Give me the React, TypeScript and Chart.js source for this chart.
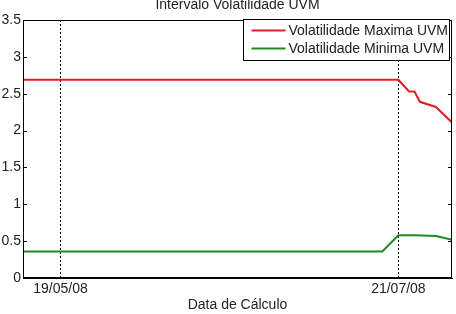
import React, { useEffect, useRef } from "react";
import { Chart, registerables } from "chart.js";

Chart.register(...registerables);

const chartTitle = "Intervalo Volatilidade UVM";
const xAxisTitle = "Data de Cálculo";

// x values are days relative to 19/05/08
const xMin = -7;
const xMax = 73;
const tickDays = [0, 63];
const tickLabels = ["19/05/08", "21/07/08"];

const yMin = 0;
const yMax = 3.5;
const yStep = 0.5;

const maxLabel = "Volatilidade Maxima UVM";
const maxDays = [-7, 63, 65, 66, 67, 70, 73];
const maxValues = [2.69, 2.69, 2.53, 2.53, 2.39, 2.32, 2.11];

const minLabel = "Volatilidade Minima UVM";
const minDays = [-7, 60, 63, 66, 70, 73];
const minValues = [0.36, 0.36, 0.58, 0.58, 0.57, 0.52];

const FONT = "'Liberation Sans', Arial, sans-serif";
const TEXT = "#222";

const framePlugin = {
  id: "matlabFrame",
  afterDraw(chart: any) {
    const { ctx, chartArea } = chart;
    const { left, right, top, bottom } = chartArea;
    ctx.save();
    ctx.strokeStyle = "#000";
    ctx.lineWidth = 1;
    ctx.setLineDash([]);
    ctx.strokeRect(left + 0.5, top + 0.5, right - left - 1, bottom - top - 1);
    // inward y ticks
    const ys = chart.scales.y;
    ys.ticks.forEach((t: any) => {
      const py = Math.round(ys.getPixelForValue(t.value)) + 0.5;
      ctx.beginPath();
      ctx.moveTo(left, py);
      ctx.lineTo(left + 4, py);
      ctx.moveTo(right - 4, py);
      ctx.lineTo(right, py);
      ctx.stroke();
    });
    // legend
    const boxW = 206;
    const boxH = 41;
    const bx = Math.round(right - boxW - 3) + 0.5;
    const by = Math.round(top - 1) + 0.5;
    ctx.fillStyle = "#fff";
    ctx.fillRect(bx, by, boxW, boxH);
    ctx.strokeRect(bx, by, boxW, boxH);
    ctx.font = `14px ${FONT}`;
    ctx.textBaseline = "middle";
    ctx.textAlign = "left";
    chart.data.datasets.forEach((ds: any, i: number) => {
      const ly = by + 11 + i * 18;
      ctx.strokeStyle = ds.borderColor;
      ctx.lineWidth = 2;
      ctx.beginPath();
      ctx.moveTo(bx + 8, ly);
      ctx.lineTo(bx + 42, ly);
      ctx.stroke();
      ctx.fillStyle = TEXT;
      ctx.fillText(ds.label, bx + 45, ly + 1);
    });
    ctx.restore();
  },
};

export default function App() {
  const ref = useRef<HTMLCanvasElement | null>(null);

  useEffect(() => {
    if (!ref.current) return;
    const chart = new Chart(ref.current, {
      type: "line",
      data: {
        datasets: [
          {
            label: maxLabel,
            data: maxDays.map((d, i) => ({ x: d, y: maxValues[i] })),
            borderColor: "#e41e1e",
            borderWidth: 2,
            pointRadius: 0,
            tension: 0,
          },
          {
            label: minLabel,
            data: minDays.map((d, i) => ({ x: d, y: minValues[i] })),
            borderColor: "#1f8a1f",
            borderWidth: 2,
            pointRadius: 0,
            tension: 0,
          },
        ],
      },
      options: {
        animation: false,
        responsive: false,
        layout: { padding: { left: 0, right: 4, top: 0, bottom: 0 } },
        plugins: {
          legend: { display: false },
          tooltip: { enabled: false },
          title: {
            display: true,
            fullSize: false,
            text: chartTitle,
            color: TEXT,
            font: { family: FONT, size: 14, weight: "normal", lineHeight: 1 },
            padding: { top: -2, bottom: 8 },
          },
        },
        scales: {
          x: {
            type: "linear",
            min: xMin,
            max: xMax,
            afterBuildTicks: (s: any) => {
              s.ticks = tickDays.map((v) => ({ value: v }));
            },
            ticks: {
              autoSkip: false,
              maxRotation: 0,
              padding: 3,
              color: TEXT,
              font: { family: FONT, size: 14 },
              callback: (v: any) => {
                const i = tickDays.indexOf(Number(v));
                return i >= 0 ? tickLabels[i] : "";
              },
            },
            grid: { color: "#000", lineWidth: 1, drawTicks: false },
            border: { display: true, color: "#000", dash: [2, 2] },
            title: {
              display: true,
              text: xAxisTitle,
              color: TEXT,
              font: { family: FONT, size: 14 },
              padding: { top: 0, bottom: 0 },
            },
            afterFit: (s: any) => {
              s.height = 36;
            },
          },
          y: {
            min: yMin,
            max: yMax,
            ticks: {
              stepSize: yStep,
              padding: 2,
              color: TEXT,
              font: { family: FONT, size: 14 },
              callback: (v: any) => String(Number(v)),
            },
            grid: { display: false, drawTicks: false },
            border: { display: true, color: "#000" },
            afterFit: (s: any) => {
              s.width = 23;
            },
          },
        },
      },
      plugins: [framePlugin],
    });
    return () => chart.destroy();
  }, []);

  return (
    <div style={{ position: "fixed", left: 0, top: 0, width: 456, height: 314, background: "#fff" }}>
      <canvas ref={ref} width={456} height={314} />
    </div>
  );
}
